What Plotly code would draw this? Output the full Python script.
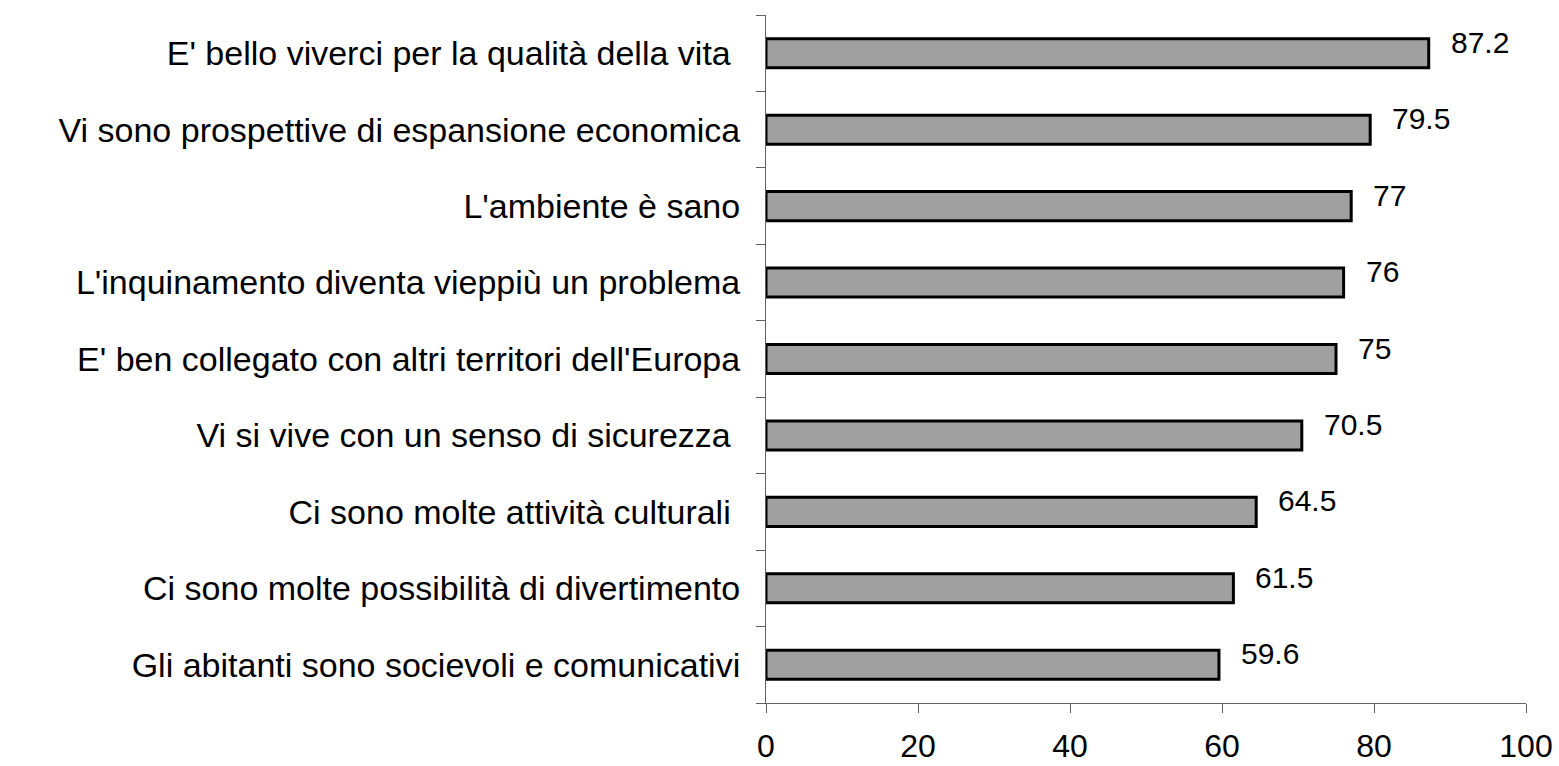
import plotly.graph_objects as go

categories = [
    "Gli abitanti sono socievoli e comunicativi",
    "Ci sono molte possibilità di divertimento",
    "Ci sono molte attività culturali ",
    "Vi si vive con un senso di sicurezza ",
    "E' ben collegato con altri territori dell'Europa",
    "L'inquinamento diventa vieppiù un problema",
    "L'ambiente è sano",
    "Vi sono prospettive di espansione economica",
    "E' bello viverci per la qualità della vita ",
]
values = [59.6, 61.5, 64.5, 70.5, 75, 76, 77, 79.5, 87.2]
value_labels = ["59.6", "61.5", "64.5", "70.5", "75", "76", "77", "79.5", "87.2"]
x_ticks = [0, 20, 40, 60, 80, 100]

FONT = "Liberation Sans, Arial"
AXIS = "#606060"

fig = go.Figure()
fig.add_trace(go.Bar(
    x=values, y=categories, orientation="h",
    marker=dict(color="#A0A0A0", line=dict(color="black", width=3)),
    width=0.38,
    hoverinfo="skip",
))

for c, v, t in zip(categories, values, value_labels):
    fig.add_annotation(x=v, y=c, text=t, showarrow=False, xanchor="left",
                       xshift=20, yshift=11,
                       font=dict(family=FONT, size=30, color="black"))

fig.update_layout(
    width=1559, height=766,
    margin=dict(l=766, r=33, t=15, b=63),
    plot_bgcolor="white", paper_bgcolor="white",
    showlegend=False,
    font=dict(family=FONT, color="black"),
    xaxis=dict(range=[0, 100], tickvals=x_ticks, showgrid=False, zeroline=False,
               showline=True, linecolor=AXIS, linewidth=1,
               ticks="outside", ticklen=9, tickcolor=AXIS,
               tickfont=dict(size=32), ticklabelstandoff=6,
               ticklabeloverflow="allow", automargin=False),
    yaxis=dict(type="category", categoryorder="array", categoryarray=categories,
               showgrid=False, zeroline=False, showline=True,
               linecolor=AXIS, linewidth=1,
               ticks="outside", ticklen=9, tickcolor=AXIS, tickson="boundaries",
               tickfont=dict(size=34), ticklabelstandoff=18,
               automargin=False, range=[-0.5, 8.5]),
)

fig.write_html(
    "out.html",
    config={"displayModeBar": False},
    post_script="document.body.style.margin='0';document.body.style.overflow='hidden';",
)
